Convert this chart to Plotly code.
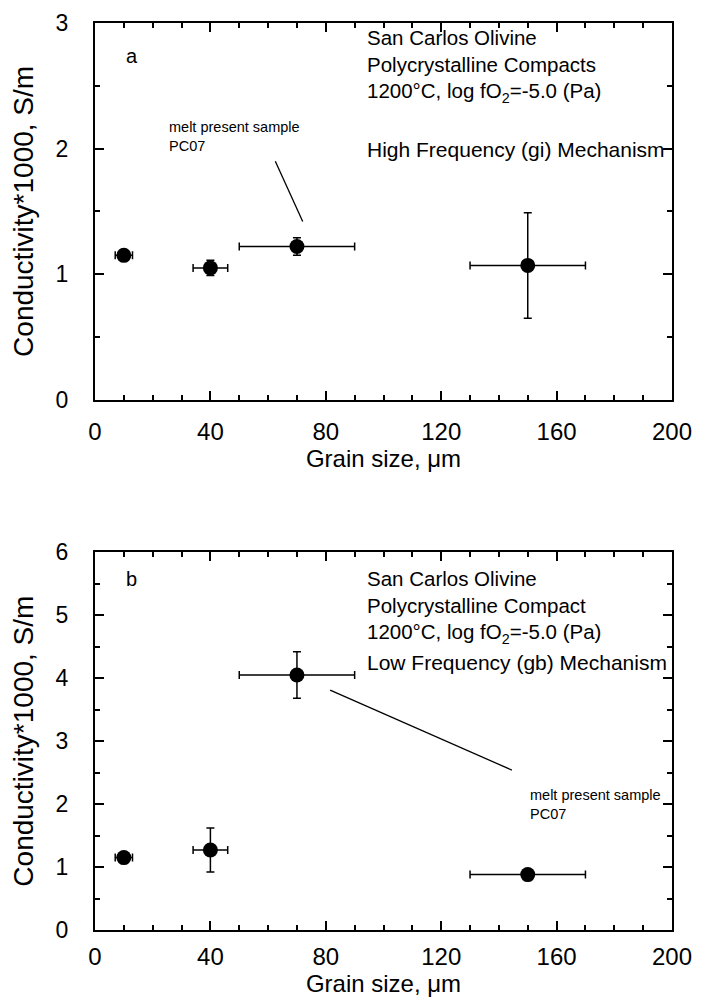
import plotly.graph_objects as go
from plotly.subplots import make_subplots

# ---- data ----
grain_size = [10, 40, 70, 150]
grain_err = [3, 6, 20, 20]

cond_a = [1.15, 1.05, 1.22, 1.07]
cond_a_err = [0.04, 0.06, 0.07, 0.42]

cond_b = [1.15, 1.27, 4.05, 0.88]
cond_b_err = [0.06, 0.35, 0.37, 0.0]

x_ticks = [0, 40, 80, 120, 160, 200]
y_ticks_a = [0, 1, 2, 3]
y_ticks_b = [0, 1, 2, 3, 4, 5, 6]

# leader lines from label to the PC07 point (x list, y list)
lead_a_x = [62.5, 72]
lead_a_y = [1.9, 1.42]
lead_b_x = [81.5, 144.5]
lead_b_y = [3.81, 2.54]

FONT = "Liberation Sans, Arial, Helvetica, sans-serif"

fig = make_subplots(rows=2, cols=1, vertical_spacing=0.168)

def add_series(y, yerr, row):
    fig.add_trace(go.Scatter(
        x=grain_size, y=y, mode="markers",
        marker=dict(color="black", size=15),
        error_x=dict(type="data", array=grain_err, color="black", thickness=1.5, width=4),
        error_y=dict(type="data", array=yerr, color="black", thickness=1.5, width=4),
        showlegend=False, hoverinfo="x+y"), row=row, col=1)

add_series(cond_a, cond_a_err, 1)
add_series(cond_b, cond_b_err, 2)

fig.add_trace(go.Scatter(x=lead_a_x, y=lead_a_y, mode="lines",
                         line=dict(color="black", width=1.3), showlegend=False, hoverinfo="skip"),
              row=1, col=1)
fig.add_trace(go.Scatter(x=lead_b_x, y=lead_b_y, mode="lines",
                         line=dict(color="black", width=1.3), showlegend=False, hoverinfo="skip"),
              row=2, col=1)

axis_common = dict(showline=True, linecolor="black", linewidth=2, mirror="ticks",
                   ticks="inside", ticklen=9, tickwidth=2, tickcolor="black",
                   showgrid=False, zeroline=False, automargin=False,
                   ticklabeloverflow="allow")
minor_x = dict(dtick=10, ticks="inside", ticklen=5, tickwidth=1.5, tickcolor="black")
minor_y = dict(dtick=0.5, ticks="inside", ticklen=5, tickwidth=1.5, tickcolor="black")
xtick_font = dict(family=FONT, size=24, color="black")
ytick_font = dict(family=FONT, size=23, color="black")
xtitle_font = dict(family=FONT, size=24, color="black")
ytitle_font = dict(family=FONT, size=28, color="black")

fig.update_xaxes(range=[0, 200], tickvals=x_ticks, minor=minor_x, ticklabelstandoff=9,
                 tickfont=xtick_font,
                 title=dict(text="Grain size, μm", font=xtitle_font, standoff=7),
                 row=1, col=1, **axis_common)
fig.update_xaxes(range=[0, 200], tickvals=x_ticks, minor=minor_x, ticklabelstandoff=4,
                 tickfont=xtick_font,
                 title=dict(text="Grain size, μm", font=xtitle_font, standoff=5),
                 row=2, col=1, **axis_common)

fig.update_yaxes(range=[0, 3], tickvals=y_ticks_a, minor=minor_y, ticklabelstandoff=20,
                 tickfont=ytick_font,
                 title=dict(text="Conductivity*1000, S/m", font=ytitle_font, standoff=19),
                 row=1, col=1, **axis_common)
fig.update_yaxes(range=[0, 6], tickvals=y_ticks_b, minor=minor_y, ticklabelstandoff=20,
                 tickfont=ytick_font,
                 title=dict(text="Conductivity*1000, S/m", font=ytitle_font, standoff=19),
                 row=2, col=1, **axis_common)

# ---- annotations ----
block_a = "San Carlos Olivine<br>Polycrystalline Compacts<br>1200°C, log fO<sub>2</sub>=-5.0 (Pa)"
block_b = "San Carlos Olivine<br>Polycrystalline Compact<br>1200°C, log fO<sub>2</sub>=-5.0 (Pa)"
mech_a = "High Frequency (gi) Mechanism"
mech_b = "Low Frequency (gb) Mechanism"
melt_label = "melt present sample<br>PC07"

def txt(x, y, text, xref, yref, size, yanchor="top"):
    fig.add_annotation(x=x, y=y, xref=xref, yref=yref, text=text, showarrow=False,
                       xanchor="left", yanchor=yanchor, align="left",
                       font=dict(family=FONT, size=size, color="black"))

txt(10, 2.74, "a", "x", "y", 20, "middle")
txt(93.5, 2.99, block_a, "x", "y", 20.5)
txt(93.5, 1.99, mech_a, "x", "y", 21, "middle")
txt(25, 2.25, melt_label, "x", "y", 14.5)

txt(10, 5.58, "b", "x2", "y2", 20, "middle")
txt(93.5, 5.79, block_b, "x2", "y2", 20.5)
txt(93.5, 4.25, mech_b, "x2", "y2", 21, "middle")
txt(150, 2.3, melt_label, "x2", "y2", 14.5)

fig.update_layout(width=724, height=1003,
                  margin=dict(l=87, r=60, t=15, b=81),
                  paper_bgcolor="white", plot_bgcolor="white",
                  font=dict(family=FONT, color="black"))
fig.update_xaxes(domain=[0, 1])
fig.layout.yaxis.domain = [0.5846, 1.0]
fig.layout.yaxis2.domain = [0.0, 0.4165]

fig.write_html("out.html")
